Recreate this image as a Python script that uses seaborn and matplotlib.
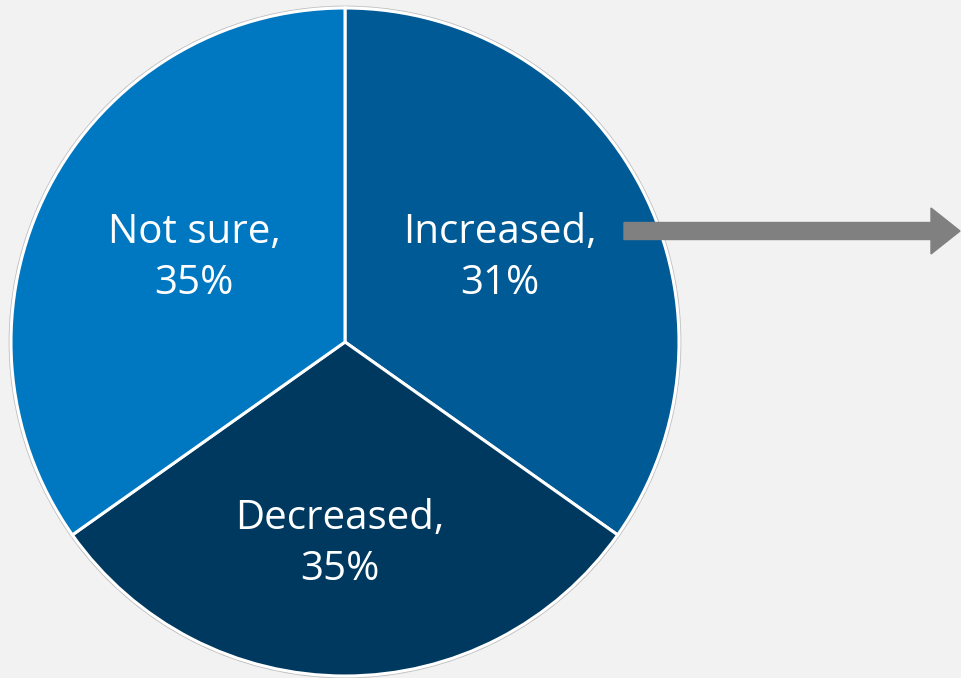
import matplotlib
matplotlib.use("Agg")
import matplotlib.pyplot as plt
import seaborn as sns
from matplotlib.patches import Circle, FancyArrow

sns.set_theme(style="white")
plt.rcParams['font.family'] = ['Open Sans', 'DejaVu Sans']

categories = ["Increased", "Decreased", "Not sure"]
slice_sizes = [34.8, 30.4, 34.8]      # wedge sizes as drawn in the reference
label_pcts = [31, 35, 35]             # percentages printed on the slices
colors = ["#005A95", "#00395F", "#0077C1"]

W, H = 961, 678
fig = plt.figure(figsize=(W / 100, H / 100), dpi=100)
fig.patch.set_facecolor("#F2F2F2")
ax = fig.add_axes([0, 0, 1, 1])
ax.set_facecolor("#F2F2F2")

cx, cy, r = 345, H - 342, 334
ax.add_patch(Circle((cx, cy), r + 1.5, facecolor="none", edgecolor="#BDBDBD", lw=1.2, zorder=1))
wedges, _ = ax.pie(slice_sizes, colors=colors, startangle=90, counterclock=False,
                   center=(cx, cy), radius=r,
                   wedgeprops=dict(edgecolor="white", linewidth=2.2), frame=True)
ax.set_xlim(0, W)
ax.set_ylim(0, H)
ax.set_aspect("equal")
ax.axis("off")

label_pos = {"Increased": (500, H - 258), "Decreased": (340, H - 544), "Not sure": (194, H - 258)}
for cat, pct in zip(categories, label_pcts):
    x, y = label_pos[cat]
    ax.text(x, y, f"{cat},\n{pct}%", ha="center", va="center", color="white",
            fontsize=29, linespacing=1.36, zorder=5)

ax.add_patch(FancyArrow(624, H - 231, 307, 0, width=17, head_width=46, head_length=29,
                        length_includes_head=False, color="#808080", zorder=6))

fig.savefig("out.png", dpi=100, facecolor=fig.get_facecolor())
